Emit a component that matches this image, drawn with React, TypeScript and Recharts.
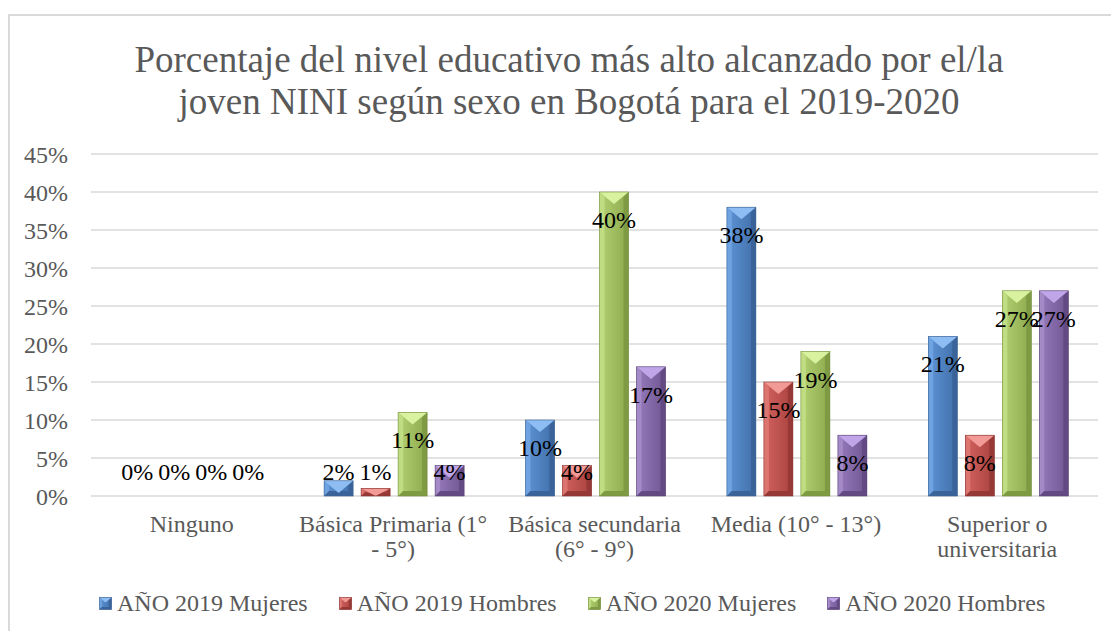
import { BarChart, Bar, XAxis, YAxis, CartesianGrid, Legend, LabelList } from 'recharts';

const categories = [
  'Ninguno',
  'Básica Primaria (1° - 5°)',
  'Básica secundaria (6° - 9°)',
  'Media (10° - 13°)',
  'Superior o universitaria',
];
const mujeres2019 = [0, 2, 10, 38, 21];
const hombres2019 = [0, 1, 4, 15, 8];
const mujeres2020 = [0, 11, 40, 19, 27];
const hombres2020 = [0, 4, 17, 8, 27];
const seriesNames = ['AÑO 2019 Mujeres', 'AÑO 2019 Hombres', 'AÑO 2020 Mujeres', 'AÑO 2020 Hombres'];
const yTicks = [0, 5, 10, 15, 20, 25, 30, 35, 40, 45];
const titleLines = [
  'Porcentaje del nivel educativo más alto alcanzado por el/la',
  'joven NINI según sexo en Bogotá para el 2019-2020',
];

const FONT = '"Liberation Serif", "Times New Roman", serif';
const GREY = '#595959';
const FS = 24;

type Palette = { key: string; faceL: string; faceR: string; top: string; left: string; right: string; stroke: string };

const palettes: Palette[] = [
  { key: 'blue', faceL: '#5d93d6', faceR: '#416fa8', top: '#8ebdf4', left: '#6ea2e0', right: '#3a6399', stroke: '#3c6494' },
  { key: 'red', faceL: '#d2625e', faceR: '#a9423f', top: '#f29a96', left: '#dc7470', right: '#963835', stroke: '#8c3836' },
  { key: 'green', faceL: '#b3d272', faceR: '#8ca94d', top: '#d8f2a0', left: '#c0dd83', right: '#7e9a42', stroke: '#768f3e' },
  { key: 'purple', faceL: '#977bbd', faceR: '#6f5591', top: '#c0a6e8', left: '#a48ac7', right: '#634a82', stroke: '#5c4778' },
];

const data = categories.map((name, i) => ({
  name,
  m19: mujeres2019[i],
  h19: hombres2019[i],
  m20: mujeres2020[i],
  h20: hombres2020[i],
}));
const keys = ['m19', 'h19', 'm20', 'h20'];

// greedy word wrap measured with a canvas, like the axis labels in the original
function wrap(text: string, maxWidth: number): string[] {
  const ctx = document.createElement('canvas').getContext('2d');
  if (!ctx) return [text];
  ctx.font = `${FS}px ${FONT}`;
  const lines: string[] = [];
  let cur = '';
  for (const w of text.split(' ')) {
    const next = cur ? `${cur} ${w}` : w;
    if (cur && ctx.measureText(next).width > maxWidth) {
      lines.push(cur);
      cur = w;
    } else {
      cur = next;
    }
  }
  if (cur) lines.push(cur);
  return lines;
}

function bevel(p: Palette, x: number, y: number, w: number, h: number) {
  if (!(h > 0) || !(w > 0)) return null;
  const s = Math.min(5, w / 5, h / 2);
  const apex = Math.min(w / 2.4, h);
  const gid = `grad-${p.key}`;
  return (
    <g>
      <defs>
        <linearGradient id={gid} x1="0" y1="0" x2="1" y2="0">
          <stop offset="0%" stopColor={p.faceL} />
          <stop offset="100%" stopColor={p.faceR} />
        </linearGradient>
      </defs>
      <rect x={x} y={y} width={w} height={h} fill={`url(#${gid})`} />
      <polygon points={`${x},${y} ${x + s},${y + s} ${x + s},${y + h - s} ${x},${y + h}`} fill={p.left} />
      <polygon points={`${x + w},${y} ${x + w - s},${y + s} ${x + w - s},${y + h - s} ${x + w},${y + h}`} fill={p.right} />
      <polygon points={`${x},${y + h} ${x + s},${y + h - s} ${x + w - s},${y + h - s} ${x + w},${y + h}`} fill={p.right} />
      <polygon points={`${x},${y} ${x + w},${y} ${x + w / 2},${y + apex}`} fill={p.top} />
      <rect x={x} y={y} width={w} height={h} fill="none" stroke={p.stroke} strokeWidth={0.6} />
    </g>
  );
}

const makeShape = (p: Palette) => (props: any) => bevel(p, props.x, props.y, props.width, props.height);

const renderLabel = (props: any) => {
  const { x, y, width, height, value } = props;
  const bottom = y + height;
  const baseline = Math.min(y + 36, bottom - 16);
  return (
    <text x={x + width / 2} y={baseline} textAnchor="middle" fontSize={FS} fontFamily={FONT} fill="#000">
      {`${value}%`}
    </text>
  );
};

const XTick = (props: any) => {
  const { x, y, payload } = props;
  const lines = wrap(String(payload.value), 195);
  return (
    <text x={x} y={y + 36} textAnchor="middle" fill={GREY} fontSize={FS} fontFamily={FONT}>
      {lines.map((l, i) => (
        <tspan key={i} x={x} dy={i === 0 ? 0 : 25}>
          {l}
        </tspan>
      ))}
    </text>
  );
};

const LegendContent = () => (
  <div style={{ display: 'flex', gap: 31, fontFamily: FONT, fontSize: FS, color: GREY, paddingLeft: 99 }}>
    {seriesNames.map((name, i) => (
      <div key={name} style={{ display: 'flex', alignItems: 'center' }}>
        <svg width={13} height={13} style={{ marginRight: 5 }}>
          {bevel(palettes[i], 0.5, 0.5, 12, 12)}
        </svg>
        <span>{name}</span>
      </div>
    ))}
  </div>
);

export default function App() {
  return (
    <div style={{ position: 'fixed', left: 0, top: 0, width: 1111, height: 631, overflow: 'hidden', background: '#fff' }}>
      <div
        style={{
          position: 'absolute',
          left: 8,
          top: 14,
          width: 1140,
          height: 660,
          border: '2px solid #d9d9d9',
        }}
      />
      <div
        style={{
          position: 'absolute',
          left: 0,
          top: 39,
          width: 1138,
          textAlign: 'center',
          fontFamily: FONT,
          fontSize: 37,
          lineHeight: '42px',
          color: GREY,
        }}
      >
        {titleLines.map((l) => (
          <div key={l}>{l}</div>
        ))}
      </div>
      <div style={{ position: 'absolute', left: 0, top: 0 }}>
        <BarChart
          width={1111}
          height={631}
          data={data}
          margin={{ top: 154, right: 13, bottom: 75, left: 21 }}
          barCategoryGap={31.7}
          barGap={8}
        >
          <CartesianGrid vertical={false} stroke="#d9d9d9" strokeWidth={1.3} />
          <XAxis
            dataKey="name"
            height={60}
            axisLine={false}
            tickLine={false}
            tickSize={0}
            tickMargin={0}
            interval={0}
            tick={<XTick />}
          />
          <YAxis
            width={70}
            domain={[0, 45]}
            ticks={yTicks}
            axisLine={false}
            tickLine={false}
            tickSize={0}
            tickMargin={23}
            tickFormatter={(v: number) => `${v}%`}
            tick={{ fill: GREY, fontSize: FS, fontFamily: FONT }}
          />
          <Legend
            layout="horizontal"
            verticalAlign="middle"
            content={<LegendContent />}
            wrapperStyle={{ left: 0, top: 590, width: 1111 }}
          />
          {keys.map((k, i) => (
            <Bar key={k} dataKey={k} name={seriesNames[i]} fill={palettes[i].faceL} shape={makeShape(palettes[i])} isAnimationActive={false}>
              <LabelList dataKey={k} content={renderLabel} />
            </Bar>
          ))}
        </BarChart>
      </div>
    </div>
  );
}
